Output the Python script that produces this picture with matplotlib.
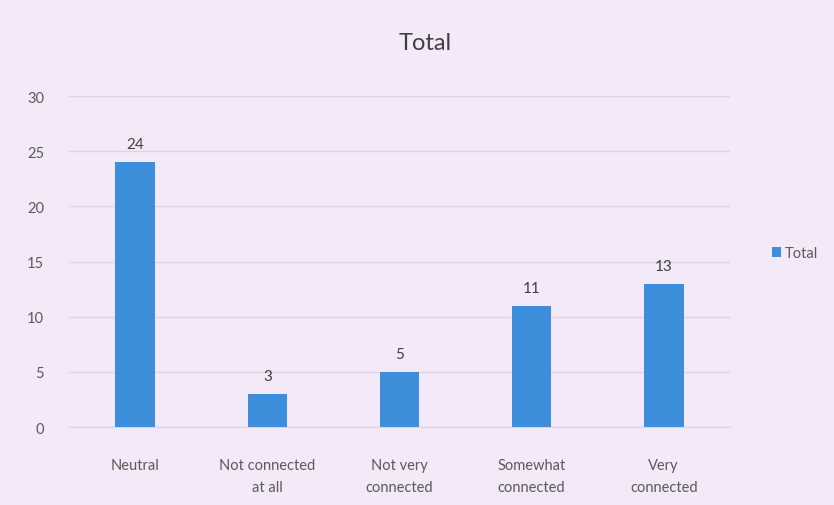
import numpy as np
import matplotlib
matplotlib.use("Agg")
from matplotlib import pyplot as plt

categories = ["Neutral", "Not connected\nat all", "Not very\nconnected",
              "Somewhat\nconnected", "Very\nconnected"]
values = [24, 3, 5, 11, 13]
yticks = [0, 5, 10, 15, 20, 25, 30]

bg = '#f3e9f8'
bar_clr = '#3d8fdb'
txt_clr = '#5a5a5a'

plt.rcParams['font.family'] = ['Lato', 'DejaVu Sans']

fig = plt.figure(figsize=(8.34, 5.06), dpi=100, facecolor=bg)
ax = fig.add_axes([0.083, 0.154, 0.792, 0.654], facecolor=bg)

x = np.arange(len(categories))
bars = ax.bar(x, values, width=0.3, color=bar_clr, label='Total', zorder=3)
for xi, v in zip(x, values):
    ax.text(xi, v + 1.0, str(v), ha='center', va='bottom',
            fontsize=11, color='#404040')

ax.set_xlim(-0.5, len(categories) - 0.5)
ax.set_ylim(0, 30)
ax.set_yticks(yticks)
ax.set_xticks(x)
ax.set_xticklabels(categories, linespacing=1.75)
ax.tick_params(length=0, colors=txt_clr, labelsize=10.5)
ax.tick_params(axis='x', pad=22)
ax.tick_params(axis='y', pad=18)
ax.grid(axis='y', color='#dcd4e0', linewidth=1, zorder=0)
for s in ax.spines.values():
    s.set_visible(False)
ax.spines['bottom'].set_visible(True)
ax.spines['bottom'].set_color('#dcd4e0')

fig.text(0.51, 0.915, 'Total', ha='center', va='center',
         fontsize=17, color='#404040')
leg = fig.legend(handles=[bars], labels=['Total'], loc='center left',
                 bbox_to_anchor=(0.91, 0.498), frameon=False,
                 handlelength=0.6, handleheight=0.6, handletextpad=0.3,
                 fontsize=10.5)
for t in leg.get_texts():
    t.set_color(txt_clr)

fig.savefig('out.png', dpi=100, facecolor=bg)
